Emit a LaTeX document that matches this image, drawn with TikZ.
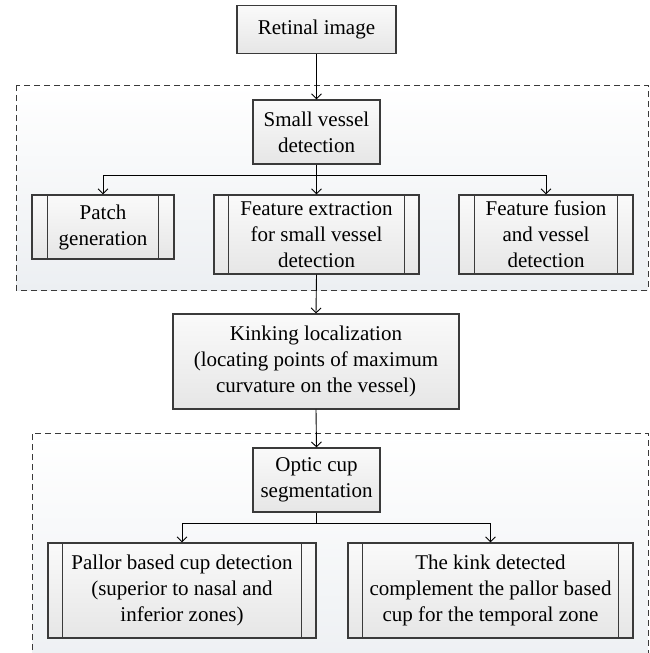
\documentclass[tikz,border=0pt]{standalone}
\usepackage{fontspec}
\setmainfont{Liberation Serif}
\usetikzlibrary{arrows.meta,shadings}
\definecolor{edge}{HTML}{3A3A3A}
\definecolor{boxtop}{HTML}{FAFAFA}
\definecolor{boxbot}{HTML}{E6E6E6}
\definecolor{regbot}{HTML}{ECEFF2}
\begin{document}
\begin{tikzpicture}[x=1pt,y=-1pt,
  every node/.style={font=\fontsize{21}{26}\selectfont, text=black, align=center, inner sep=0pt},
  box/.style={draw=edge, line width=1.1pt, rectangle, top color=boxtop, bottom color=boxbot, shading angle=0},
  sub/.style={box},
  region/.style={draw=edge, line width=1pt, dash pattern=on 6pt off 4pt},
  conn/.style={draw=black, line width=0.9pt},
  arr/.style={conn, -{Straight Barb[length=5pt,width=10pt,line width=0.9pt]}}
]
\useasboundingbox (0,0) rectangle (649,653);
\clip (0,0) rectangle (649,653);
% regions
\fill[top color=white, bottom color=regbot] (16,85) rectangle (648,290);
\draw[region] (16,85) rectangle (648,290);
\fill[top color=white, bottom color=regbot] (32,433) rectangle (648,680);
\draw[region] (32,680) -- (32,433) -- (648,433) -- (648,680);
% boxes
\node[box, minimum width=159pt, minimum height=48pt] (ret) at (316.5,29.5) {Retinal image};
\node[box, minimum width=127pt, minimum height=64pt] (svd) at (316.5,132) {Small vessel\\detection};
\node[sub, minimum width=142pt, minimum height=64pt] (patch) at (103,227) {Patch\\generation};
\node[sub, minimum width=205pt, minimum height=79pt] (feat) at (316.5,234.5) {Feature extraction\\for small vessel\\detection};
\node[sub, minimum width=174pt, minimum height=79pt] (fus) at (546,234.5) {Feature fusion\\and vessel\\detection};
\node[box, minimum width=286pt, minimum height=95pt] (kink) at (316,361.5) {Kinking localization\\(locating points of maximum\\curvature on the vessel)};
\node[box, minimum width=127pt, minimum height=64pt] (optic) at (316.5,480) {Optic cup\\segmentation};
\node[sub, minimum width=268pt, minimum height=95pt] (pallor) at (182,590.5) {Pallor based cup detection\\(superior to nasal and\\inferior zones)};
\node[sub, minimum width=285pt, minimum height=95pt] (kd) at (490.5,590.5) {The kink detected\\complement the pallor based\\cup for the temporal zone};
% inner bars of process boxes
\foreach \n/\d in {patch/16, feat/15, fus/16, pallor/15, kd/15}{
  \draw[edge, line width=1pt] ([xshift=\d pt]\n.north west) -- ([xshift=\d pt]\n.south west);
  \draw[edge, line width=1pt] ([xshift=-\d pt]\n.north east) -- ([xshift=-\d pt]\n.south east);
}
% connectors
\coordinate (b1) at (316.5,175);
\coordinate (b2) at (316.5,523);
\draw[arr] (ret.south) -- (svd.north);
\draw[arr] (svd.south) -- (feat.north);
\draw[arr] (b1) -| (patch.north);
\draw[arr] (b1) -| (fus.north);
\draw[arr] (feat.south) -- (kink.north);
\draw[arr] (kink.south) -- (optic.north);
\draw[conn] (optic.south) -- (b2);
\draw[arr] (b2) -| (pallor.north);
\draw[arr] (b2) -| (kd.north);
\end{tikzpicture}
\end{document}
